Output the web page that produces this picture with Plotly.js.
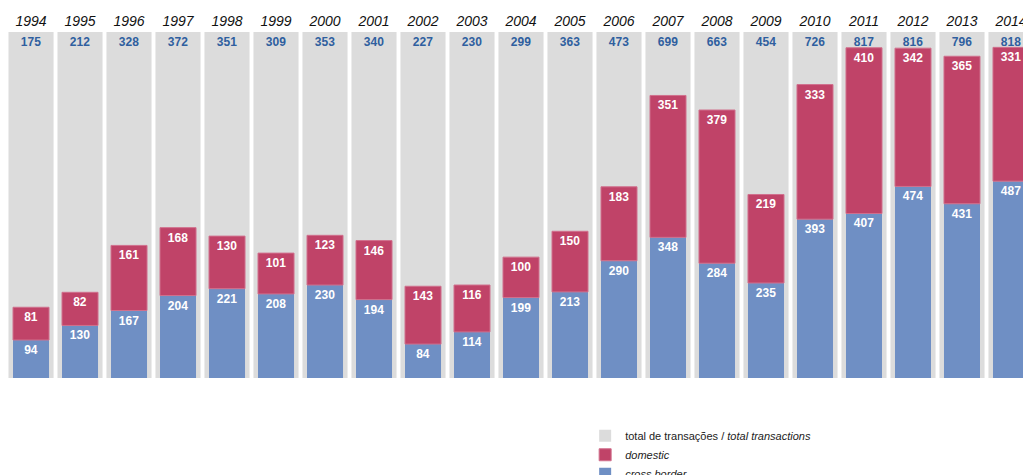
<!DOCTYPE html>
<html>
<head>
<meta charset="utf-8">
<script src="https://cdn.plot.ly/plotly-3.0.1.min.js"></script>
<style>html,body{margin:0;padding:0;background:#fff;}#chart{width:1023px;height:475px;}</style>
</head>
<body>
<div id="chart"></div>
<script>
const years = ['1994','1995','1996','1997','1998','1999','2000','2001','2002','2003','2004','2005','2006','2007','2008','2009','2010','2011','2012','2013','2014'];
const totalTransactions = [175,212,328,372,351,309,353,340,227,230,299,363,473,699,663,454,726,817,816,796,818];
const domestic = [81,82,161,168,130,101,123,146,143,116,100,150,183,351,379,219,333,410,342,365,331];
const crossBorder = [94,130,167,204,221,208,230,194,84,114,199,213,290,348,284,235,393,407,474,431,487];

const yMax = 856;
const fontFam = 'Liberation Sans, Arial, sans-serif';

const greyTrace = {
  type: 'bar', x: years, y: years.map(() => yMax),
  name: 'total de transações / <i>total transactions</i>',
  marker: {color: '#dcdcdc'}, width: 0.92,
  text: totalTransactions.map(String), textposition: 'inside', insidetextanchor: 'end',
  textangle: 0, constraintext: 'none',
  insidetextfont: {family: fontFam, size: 12, color: '#2f5f9f', weight: 'bold'},
  hoverinfo: 'skip', legendrank: 1
};
const crossTrace = {
  type: 'bar', x: years, y: crossBorder,
  name: '<i>cross border</i>',
  marker: {color: '#6f8fc4'}, width: 0.735,
  text: crossBorder.map(String), textposition: 'inside', insidetextanchor: 'end',
  textangle: 0, constraintext: 'none',
  insidetextfont: {family: fontFam, size: 12, color: '#ffffff', weight: 'bold'},
  hoverinfo: 'skip', legendrank: 3
};
const domTrace = {
  type: 'bar', x: years, y: domestic, base: crossBorder,
  name: '<i>domestic</i>',
  marker: {color: '#c04368', line: {color: '#d0708d', width: 1}}, width: 0.735,
  text: domestic.map(String), textposition: 'inside', insidetextanchor: 'end',
  textangle: 0, constraintext: 'none',
  insidetextfont: {family: fontFam, size: 12, color: '#ffffff', weight: 'bold'},
  hoverinfo: 'skip', legendrank: 2
};

const layout = {
  width: 1023, height: 475,
  margin: {l: 0, r: 0, t: 32, b: 97, pad: 0, autoexpand: false},
  paper_bgcolor: '#ffffff', plot_bgcolor: '#ffffff',
  barmode: 'overlay',
  showlegend: true,
  legend: {
    x: 0.572, xanchor: 'left', y: -0.125, yanchor: 'top',
    orientation: 'v', traceorder: 'normal',
    font: {family: fontFam, size: 11, color: '#222222'},
    itemwidth: 30, tracegroupgap: 0, bgcolor: 'rgba(0,0,0,0)'
  },
  xaxis: {
    type: 'category', side: 'top', range: [-0.633, 20.245],
    showgrid: false, zeroline: false, showline: false, ticks: '',
    ticklabelstandoff: 2,
    tickfont: {family: fontFam, size: 14, color: '#111111', style: 'italic'},
    fixedrange: true
  },
  yaxis: {
    range: [0, yMax], showgrid: false, zeroline: false, showline: false,
    showticklabels: false, ticks: '', fixedrange: true
  },
  font: {family: fontFam}
};

Plotly.newPlot('chart', [greyTrace, crossTrace, domTrace], layout, {displayModeBar: false, staticPlot: true});
</script>
</body>
</html>
